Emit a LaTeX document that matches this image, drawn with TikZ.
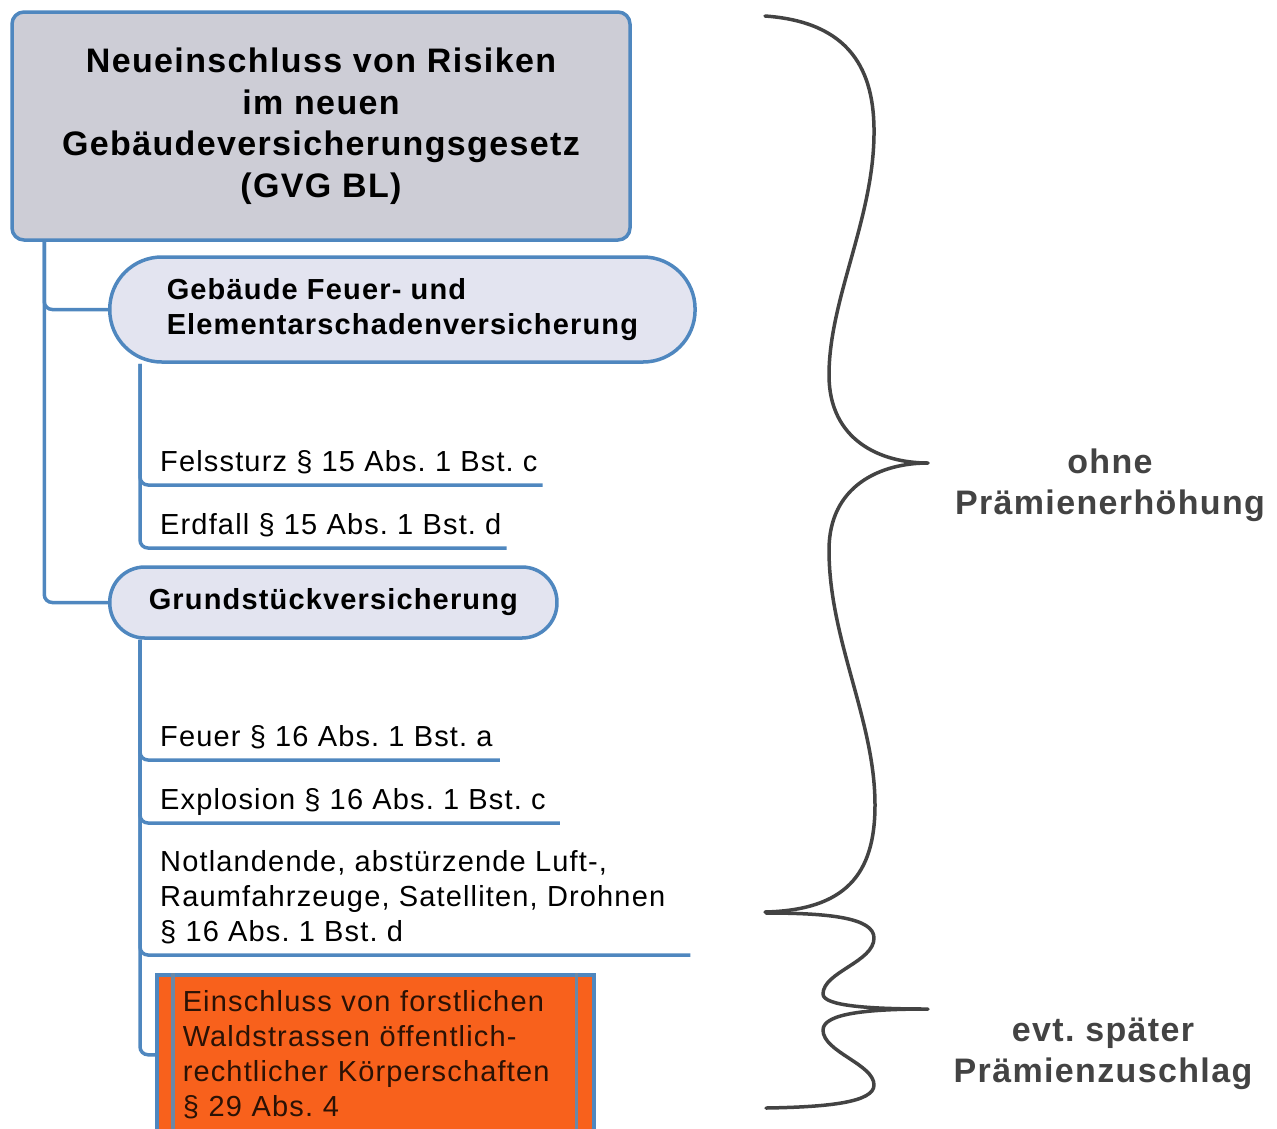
\documentclass[tikz,border=0pt]{standalone}
\usepackage{fontspec}
\setmainfont{Liberation Sans}[LetterSpace=4]
\usetikzlibrary{positioning}
\frenchspacing
\definecolor{lineblue}{HTML}{4F87BF}
\definecolor{headgray}{HTML}{CDCDD6}
\definecolor{pillfill}{HTML}{E3E4F0}
\definecolor{warnorange}{HTML}{F8611C}
\definecolor{warnframe}{HTML}{6B88A6}
\definecolor{warntext}{HTML}{2B1205}
\definecolor{bracegray}{HTML}{434343}

\begin{document}
\begin{tikzpicture}[x=1pt,y=-1pt,
  head/.style={draw=lineblue,line width=3.5pt,fill=headgray,rounded corners=12pt,minimum width=618pt,minimum height=228pt,align=center,font=\fontsize{34}{41.5}\selectfont\bfseries},
  pill/.style={draw=lineblue,line width=3.5pt,fill=pillfill,anchor=west,align=left,font=\fontsize{29}{35}\selectfont\bfseries},
  leaf/.style={anchor=south west,inner sep=0pt,text depth=13pt,align=left,font=\fontsize{29}{35}\selectfont},
  link/.style={draw=lineblue,line width=3.5pt,rounded corners=8pt},
  curly/.style={draw=bracegray,line width=3.5pt,line cap=round,line join=round},
  note/.style={align=center,text=bracegray,font=\fontsize{34}{41}\selectfont\bfseries}]
  \useasboundingbox (0,0) rectangle (1277,1128);
  \clip (0,0) rectangle (1277,1128);

  \node[head] (title) at (321,126) {Neueinschluss von Risiken\\im neuen\\Gebäudeversicherungsgesetz\\(GVG BL)};

  \node[pill,inner xsep=57pt,minimum height=105pt,rounded corners=52pt] (geb) at (108,309.5) {Gebäude Feuer- und\\Elementarschadenversicherung};
  \node[leaf] (fels) at (160,485) {Felssturz § 15 Abs. 1 Bst. c};
  \node[leaf] (erdf) at (160,548) {Erdfall § 15 Abs. 1 Bst. d};

  \node[pill,inner xsep=39pt,minimum height=71pt,rounded corners=35pt] (grund) at (108,602.5) {Grundstückversicherung};
  \node[leaf] (feuer) at (160,760) {Feuer § 16 Abs. 1 Bst. a};
  \node[leaf] (explo) at (160,823) {Explosion § 16 Abs. 1 Bst. c};
  \node[leaf] (notl) at (160,955) {Notlandende, abstürzende Luft-,\\Raumfahrzeuge, Satelliten, Drohnen\\§ 16 Abs. 1 Bst. d};
  \node[draw=lineblue,line width=3.5pt,fill=warnorange,anchor=north west,minimum width=437pt,minimum height=160pt,
        inner xsep=26pt,text width=385pt,align=left,text=warntext,font=\fontsize{29}{35}\selectfont] (wald) at (155,973)
        {Einschluss von forstlichen\\Waldstrassen öffentlich-\\rechtlicher Körperschaften\\§ 29 Abs. 4};
  \draw[warnframe,line width=3.5pt] ([xshift=18pt]wald.north west) -- ([xshift=18pt]wald.south west)
                                  ([xshift=-19pt]wald.north east) -- ([xshift=-19pt]wald.south east);

  \draw[link] ([xshift=34pt]title.south west) |- (geb.west);
  \draw[link] ([xshift=34pt]title.south west) |- (grund.west);
  \draw[link] ([xshift=32pt]geb.south west) |- ([xshift=5pt]fels.south east);
  \draw[link] ([xshift=32pt]geb.south west) |- ([xshift=5pt]erdf.south east);
  \draw[link] ([xshift=32pt]grund.south west) |- ([xshift=7pt]feuer.south east);
  \draw[link] ([xshift=32pt]grund.south west) |- ([xshift=14pt]explo.south east);
  \draw[link] ([xshift=32pt]grund.south west) |- ([xshift=25pt]notl.south east);
  \draw[link] ([xshift=32pt]grund.south west) |- (wald.west);

  \draw[curly] (765,16) .. controls (850,22) and (875,70) .. (874,135)
    .. controls (873,220) and (829,300) .. (829,375)
    .. controls (829,440) and (880,463) .. (928,463)
    .. controls (880,463) and (829,486) .. (829,550)
    .. controls (829,640) and (875,720) .. (875,805)
    .. controls (875,875) and (845,910) .. (765,912);
  \draw[curly] (766,913) .. controls (830,913) and (874,918) .. (874,938)
    .. controls (874,962) and (823,972) .. (823,994)
    .. controls (823,1006) and (870,1009) .. (928,1009)
    .. controls (870,1009) and (823,1013) .. (823,1030)
    .. controls (823,1052) and (874,1064) .. (874,1085)
    .. controls (874,1102) and (830,1107) .. (766,1108);

  \node[note] (ohne) at (1110,485) {ohne\\Prämienerhöhung};
  \node[note] (spaet) at (1103,1054) {evt. später\\Prämienzuschlag};
\end{tikzpicture}
\end{document}
